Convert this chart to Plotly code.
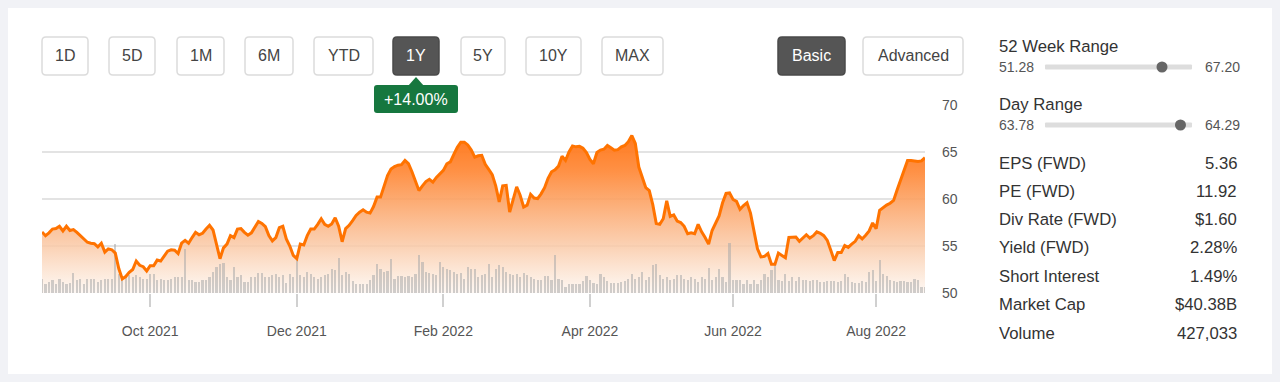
import plotly.graph_objects as go
import pandas as pd

# ---------------- data ----------------
holidays = ["2021-09-06", "2021-11-25", "2021-12-24", "2022-01-17", "2022-02-21",
            "2022-04-15", "2022-05-30", "2022-06-20", "2022-07-04"]
dates = pd.bdate_range("2021-08-18", "2022-08-19", freq="C",
                       holidays=holidays).strftime("%Y-%m-%d").tolist()

prices = [
    56.5, 56.1, 56.4, 56.8, 56.85, 57.1, 56.6, 57.1, 56.65, 56.75,
    56.45, 56.1, 55.8, 55.4, 55.3, 55.25, 54.9, 55.3, 54.35, 54.7,
    54.6, 54.25, 52.6, 51.5, 51.75, 52.2, 52.5, 53.4, 52.95, 52.8,
    52.35, 52.9, 52.9, 53.5, 53.4, 53.9, 54.45, 54.6, 54.55, 54.2,
    55.3, 55.6, 55.3, 55.9, 56.45, 56.2, 56.35, 56.8, 57.2, 56.7,
    55.3, 53.65, 54.8, 55.2, 56.1, 55.9, 56.8, 56.85, 56.45, 56.15,
    56.4, 57.0, 57.6, 57.4, 57.05, 56.1, 55.55, 55.9, 56.95, 57.1,
    55.75, 55.0, 54.0, 53.65, 55.2, 55.1, 56.1, 56.8, 56.8, 57.3,
    57.9, 57.3, 57.1, 57.35, 58.0, 57.1, 55.45, 56.85, 57.2, 57.7,
    58.25, 58.6, 58.85, 58.6, 58.5, 59.2, 60.2, 60.2, 61.4, 62.5,
    63.2, 63.45, 63.6, 63.65, 64.1, 63.75, 62.9, 61.9, 60.9, 61.4,
    61.85, 62.1, 61.8, 62.3, 62.7, 63.05, 63.75, 63.95, 64.75, 65.5,
    66.05, 66.05, 65.75, 65.2, 64.45, 64.6, 64.65, 63.7, 63.15, 62.6,
    61.4, 59.7, 61.4, 61.45, 58.6, 60.0, 61.3, 60.4, 59.15, 59.35,
    60.5, 60.1, 60.05, 60.55, 61.2, 62.2, 62.9, 63.1, 63.5, 64.55,
    64.1, 65.0, 65.65, 65.55, 65.6, 65.4, 64.95, 64.2, 63.75, 64.95,
    65.2, 65.3, 65.7, 65.45, 65.2, 65.25, 65.55, 65.7, 66.1, 66.75,
    65.9, 63.4, 62.35, 61.2, 60.9, 59.4, 57.4, 57.3, 57.9, 59.8,
    58.15, 58.3, 57.65, 57.5, 57.1, 56.3, 56.4, 56.3, 57.3, 56.5,
    55.9, 55.2, 56.65, 57.35, 58.2, 59.6, 60.6, 60.65, 59.95, 59.75,
    58.9, 59.3, 59.6, 58.5, 56.6, 54.7, 53.85, 53.9, 54.2, 53.05,
    53.05, 54.25, 54.0, 53.75, 55.9, 55.95, 55.95, 55.5, 55.9, 56.2,
    55.85, 56.1, 56.5, 56.35, 56.1, 55.6, 54.55, 53.45, 54.3, 54.3,
    55.05, 54.85, 55.2, 55.5, 56.1, 55.75, 56.15, 56.6, 57.45, 56.85,
    58.8, 59.1, 59.35, 59.55, 59.85, 60.95, 61.95, 62.95, 64.1, 64.1,
    64.05, 64.0, 64.05, 64.4,
]

# daily volume, thousands of shares
volumes = [
    840, 540, 660, 780, 540, 840, 660, 540, 600, 1200,
    780, 840, 540, 840, 840, 840, 660, 780, 840, 840,
    840, 2940, 1140, 960, 1020, 1080, 960, 1080, 960, 840,
    840, 1140, 1140, 780, 840, 780, 780, 840, 960, 960,
    960, 2640, 780, 780, 660, 660, 780, 780, 960, 1260,
    1560, 1740, 1800, 960, 780, 1560, 960, 1080, 660, 660,
    960, 960, 1200, 1200, 960, 960, 1080, 1140, 960, 1080,
    600, 1140, 960, 2040, 1080, 960, 1260, 1140, 960, 840,
    960, 1080, 1140, 1440, 1380, 2100, 1080, 1260, 1140, 720,
    540, 540, 540, 540, 780, 1080, 1740, 1440, 1260, 1320,
    2040, 840, 1020, 1020, 960, 1020, 960, 1140, 2280, 1860,
    1260, 1200, 1140, 1080, 1860, 1560, 1440, 1380, 1260, 1140,
    1200, 840, 1560, 1440, 1440, 960, 1080, 1140, 1740, 960,
    1440, 1680, 1560, 1260, 1140, 1080, 1140, 960, 1200, 1080,
    960, 840, 780, 780, 1020, 1020, 780, 2280, 840, 780,
    360, 540, 540, 540, 540, 720, 1020, 780, 600, 540,
    1140, 960, 720, 600, 600, 600, 660, 720, 840, 1140,
    840, 960, 1260, 780, 960, 1680, 1740, 1080, 840, 960,
    780, 840, 1080, 1080, 840, 780, 960, 840, 660, 960,
    840, 1500, 780, 960, 1440, 960, 660, 3000, 780, 780,
    780, 540, 780, 540, 780, 540, 780, 1140, 960, 1380,
    1740, 780, 720, 1140, 720, 960, 720, 960, 780, 780,
    720, 780, 780, 660, 660, 720, 720, 720, 660, 720,
    1140, 960, 660, 600, 600, 720, 660, 1260, 1380, 720,
    1980, 1140, 1020, 780, 720, 660, 720, 720, 660, 660,
    840, 780, 360, 360,
]

tick_dates = ["2021-10-01", "2021-12-01", "2022-02-01", "2022-04-01", "2022-06-01", "2022-08-01"]
tick_text = ["Oct 2021", "Dec 2021", "Feb 2022", "Apr 2022", "Jun 2022", "Aug 2022"]
y_ticks = [50, 55, 60, 65, 70]

range_buttons = ["1D", "5D", "1M", "6M", "YTD", "1Y", "5Y", "10Y", "MAX"]
active_button = "1Y"
change_label = "+14.00%"

# (title, low label, high label, low, high, marker position)
week52 = ("52 Week Range", "51.28", "67.20", 51.28, 67.20, 63.95)
day_rng = ("Day Range", "63.78", "64.29", 63.78, 64.29, 64.25)
stat_labels = ["EPS (FWD)", "PE (FWD)", "Div Rate (FWD)", "Yield (FWD)",
               "Short Interest", "Market Cap", "Volume"]
stat_values = ["5.36", "11.92", "$1.60", "2.28%", "1.49%", "$40.38B", "427,033"]

assert len(dates) == len(prices) == len(volumes)

# ---------------- layout helpers (screen pixel coordinates) ----------------
OX, OY = 8, 8            # page body margin: figure starts at (8, 8)
W, H = 1264, 366
PL, PR, PT, PB = 42, 925, 105, 293   # plot area on screen
FONT = "Liberation Sans, Arial, sans-serif"


def px2x(px):
    return (px - PL) / (PR - PL)


def py2y(py):
    return (PB - py) / (PB - PT)


def rrect(x0, y0, x1, y1, r, fill, line_color=None, line_width=0):
    X0, X1 = px2x(x0), px2x(x1)
    Yt, Yb = py2y(y0), py2y(y1)
    rx, ry = r / (PR - PL), r / (PB - PT)
    path = (f"M{X0+rx},{Yt} L{X1-rx},{Yt} Q{X1},{Yt} {X1},{Yt-ry} "
            f"L{X1},{Yb+ry} Q{X1},{Yb} {X1-rx},{Yb} L{X0+rx},{Yb} "
            f"Q{X0},{Yb} {X0},{Yb+ry} L{X0},{Yt-ry} Q{X0},{Yt} {X0+rx},{Yt} Z")
    return dict(type="path", xref="paper", yref="paper", path=path,
                fillcolor=fill,
                line=dict(color=line_color or fill, width=line_width))


def text(px, py, s, size=16, color="#333333", anchor="left"):
    return dict(xref="paper", yref="paper", x=px2x(px), y=py2y(py), text=s,
                showarrow=False, xanchor=anchor, yanchor="middle",
                font=dict(family=FONT, size=size, color=color))


# ---------------- traces ----------------
fig = go.Figure()
fig.add_trace(go.Scatter(
    x=dates, y=prices, mode="none", fill="tozeroy", yaxis="y", hoverinfo="skip",
    fillgradient=dict(type="vertical", start=50, stop=67, colorscale=[
        [0.0, "rgba(253,244,238,0.7)"],
        [0.12, "rgba(252,228,210,0.8)"],
        [0.29, "rgba(250,202,168,0.85)"],
        [0.59, "rgba(252,160,96,0.9)"],
        [0.76, "rgba(255,138,58,0.94)"],
        [1.0, "rgba(255,116,20,0.97)"],
    ])))
fig.add_trace(go.Bar(
    x=dates, y=volumes, yaxis="y2", width=0.62, hoverinfo="skip",
    marker=dict(color="rgba(170,170,170,0.55)", line=dict(width=0))))
fig.add_trace(go.Scatter(
    x=dates, y=prices, mode="lines", yaxis="y3", hoverinfo="skip",
    line=dict(color="#ff7300", width=3)))

# ---------------- decorations ----------------
shapes = []
annotations = []

btn_bounds = [(42, 88), (109, 155), (177, 224), (245, 293), (314, 373),
              (393, 439), (461, 505), (526, 581), (602, 663)]
for lab, (bx0, bx1) in zip(range_buttons, btn_bounds):
    act = lab == active_button
    shapes.append(rrect(bx0, 37, bx1, 75, 4,
                        "#555555" if act else "white",
                        "#4a4a4a" if act else "#dcdcdc", 1.5))
    annotations.append(text((bx0 + bx1) / 2, 56, lab, 16,
                            "white" if act else "#444444", "center"))

shapes.append(rrect(778, 37, 845, 75, 4, "#555555", "#4a4a4a", 1.5))
annotations.append(text(811.5, 56, "Basic", 16, "white", "center"))
shapes.append(rrect(863, 37, 963, 75, 4, "white", "#dcdcdc", 1.5))
annotations.append(text(913, 56, "Advanced", 16, "#444444", "center"))

# change badge
shapes.append(rrect(374, 85, 458, 113, 3, "#16773f"))
tx = [px2x(408), px2x(416), px2x(424)]
ty = [py2y(86), py2y(77), py2y(86)]
shapes.append(dict(type="path", xref="paper", yref="paper",
                   path=f"M{tx[0]},{ty[0]} L{tx[1]},{ty[1]} L{tx[2]},{ty[2]} Z",
                   fillcolor="#16773f", line=dict(width=0)))
annotations.append(text(416, 99.5, change_label, 16, "white", "center"))

# ranges panel
for (title, lo_s, hi_s, lo, hi, cur), ty_title, ty_bar in [(week52, 46, 67), (day_rng, 104, 125)]:
    annotations.append(text(997, ty_title, title, 16.7, "#333333"))
    annotations.append(text(997, ty_bar, lo_s, 14, "#555555"))
    annotations.append(text(1203, ty_bar, hi_s, 14, "#555555"))
    shapes.append(rrect(1045, ty_bar - 2.5, 1192, ty_bar + 2.5, 1, "#dddddd"))
    dot_x = 1045 + (cur - lo) / (hi - lo) * (1192 - 1045)
    shapes.append(dict(type="circle", xref="paper", yref="paper",
                       x0=px2x(dot_x - 5.5), x1=px2x(dot_x + 5.5),
                       y0=py2y(ty_bar + 5.5), y1=py2y(ty_bar - 5.5),
                       fillcolor="#666666", line=dict(width=0)))

row_y = [163, 191, 219, 247, 276, 304, 333]
for lab, val, ry in zip(stat_labels, stat_values, row_y):
    annotations.append(text(997, ry, lab, 16.7, "#333333"))
    annotations.append(text(1239, ry, val, 16.7, "#333333", "right"))

fig.update_layout(
    width=W, height=H, autosize=False,
    margin=dict(l=PL - OX, r=OX + W - PR, t=PT - OY, b=OY + H - PB, pad=0),
    paper_bgcolor="white", plot_bgcolor="rgba(0,0,0,0)",
    showlegend=False, hovermode=False, bargap=0,
    font=dict(family=FONT, color="#555555"),
    xaxis=dict(type="category", range=[0, len(dates) - 1],
               tickmode="array", tickvals=tick_dates, ticktext=tick_text,
               ticks="outside", ticklen=13, tickwidth=1.5, tickcolor="#d0d0d0",
               showgrid=False, showline=False, zeroline=False,
               tickfont=dict(size=14, color="#555555"), ticklabelstandoff=12),
    yaxis=dict(range=[50, 70], side="right", tickmode="array", tickvals=y_ticks,
               showgrid=True, gridcolor="#e3e3e3", gridwidth=2,
               zeroline=False, showline=False, ticks="",
               tickfont=dict(size=14, color="#555555"), ticklabelstandoff=16),
    yaxis2=dict(overlaying="y", range=[0, 11280], visible=False),
    yaxis3=dict(overlaying="y", range=[50, 70], visible=False),
    shapes=shapes, annotations=annotations,
)

fig.write_html("out.html",
               post_script="document.body.style.background='#f1f2f6';")
